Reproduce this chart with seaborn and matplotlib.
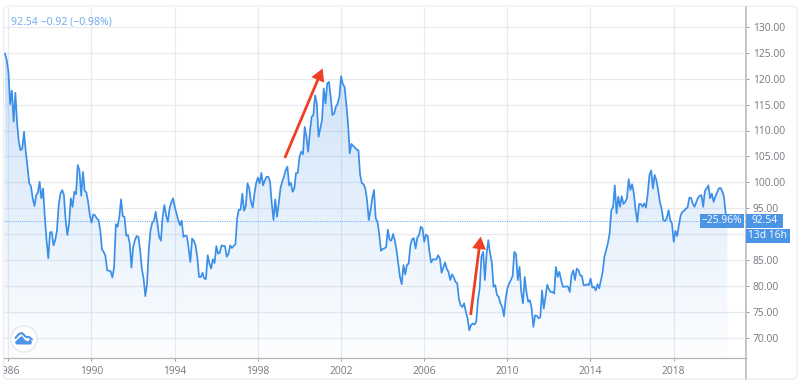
import numpy as np
import pandas as pd
import seaborn as sns
import matplotlib
matplotlib.use("Agg")
import matplotlib.pyplot as plt
from matplotlib.patches import FancyBboxPatch, Circle, Rectangle, Polygon
from matplotlib.lines import Line2D
from matplotlib.transforms import IdentityTransform

values_1985_1998 = [124.9,123.6,121.3,115.1,117.7,111.7,117.3,111.4,107.8,106.2,106.5,109.75,105.9,103.0,99.8,99.25,96.9,95.4,97.5,98.0,100.1,96.9,98.8,93.3,88.8,85.3,90.3,90.4,87.8,88.8,90.7,95.6,97.8,98.5,97.6,92.7,89.8,92.0,96.9,95.25,98.15,97.7,103.3,102.3,97.4,102.0,98.4,98.0,96.2,93.6,92.2,93.8,93.6,93.0,92.7,90.7,87.0,86.55,85.7,83.0,82.9,82.8,81.6,83.65,91.9,91.4,93.3,96.7,93.45,93.3,89.65,89.8,88.2,83.5,87.5,88.8,89.6,89.45,86.9,83.3,81.4,78.0,80.4,86.9,90.7,92.2,92.55,94.3,92.0,89.45,88.7,93.3,95.6,93.6,92.35,94.9,96.1,96.9,95.25,94.0,92.7,91.7,92.55,89.45,89.7,89.6,87.2,84.6,89.1,88.7,87.8,85.6,81.7,81.65,82.5,81.4,81.3,85.9,84.3,83.3,85.1,84.4,87.65,86.2,86.4,87.8,87.7,87.65,85.6,86.2,87.8,87.3,87.7,88.0,93.0,94.7,94.7,97.8,94.5,95.4,99.8,98.8,96.2,95.1,97.8,99.9,100.9,99.8,101.8,99.4,100.4,101.05,101.05]
values_1998_2011 = [100.1,95.9,92.7,96.7,93.3,95.9,98.8,100.1,101.05,102.3,103.0,99.4,99.9,98.15,98.8,101.8,101.8,104.9,105.9,105.4,110.7,108.8,105.9,109.75,112.65,113.0,116.8,115.2,108.8,110.4,112.0,118.1,115.2,119.1,119.4,116.5,113.0,113.3,114.6,115.2,116.5,120.5,119.0,118.45,115.2,111.4,105.6,107.4,107.0,106.7,106.3,106.2,101.4,99.8,99.6,98.8,96.5,92.7,94.6,96.9,98.5,93.0,92.35,90.1,86.75,87.1,87.2,87.5,90.85,88.9,88.7,90.0,88.8,86.9,84.3,81.7,80.3,84.0,82.2,84.0,84.3,87.8,89.0,89.2,87.2,89.3,89.8,91.4,91.1,88.5,89.9,89.6,86.55,84.5,85.1,85.1,85.1,85.9,85.3,82.5,83.5,84.5,83.3,82.7,81.1,82.2,81.7,80.75,80.55,77.5,76.2,75.9,76.6,75.0,73.7,71.4,72.4,72.7,72.5,73.0,77.2,79.5,85.6,86.55,81.1,86.2,88.8,86.2,84.6,79.8,80.1,78.2,77.85,76.6,75.9,74.1,77.5,79.5,80.4,81.1,81.85,86.55,86.1,81.1,83.65,78.8,76.6,81.7,78.8,76.9,77.2]
values_2011_2020 = [75.6,72.05,74.3,74.2,73.7,73.9,79.1,75.6,77.85,80.2,79.3,78.8,78.8,78.5,83.65,81.7,82.7,81.1,79.8,79.8,79.9,79.8,78.8,82.0,83.0,81.1,83.3,83.0,82.0,81.9,80.1,80.1,80.3,80.1,81.4,79.65,79.8,79.1,80.3,79.5,81.1,82.7,85.6,86.9,88.2,90.1,94.6,95.25,99.4,94.0,97.2,95.25,97.3,95.8,96.2,96.9,100.6,98.5,99.6,97.8,94.6,92.35,95.8,95.8,95.25,95.9,95.1,97.8,101.4,102.3,98.8,101.4,100.4,98.5,96.2,94.9,92.7,92.5,93.0,94.6,92.7,92.0,88.5,90.6,89.6,91.7,93.6,94.3,94.5,94.9,95.1,97.0,97.0,95.9,95.25,96.1,97.0,97.4,97.5,95.25,98.3,98.8,99.4,96.9,97.8,96.2,97.2,98.0,98.8,98.9,98.3,97.2,94.0,92.54]
start_year = 1985.84
y_ticks = [70,75,80,85,90,95,100,105,110,115,120,125,130]
y_tick_labels = ["70.00","75.00","80.00","85.00","","95.00","100.00","105.00","110.00","115.00","120.00","125.00","130.00"]
x_ticks = [1986,1990,1994,1998,2002,2006,2010,2014,2018]
last_value = 92.54
header = "92.54 \u22120.92 (\u22120.98%)"

vals = values_1985_1998 + values_1998_2011 + values_2011_2020
df = pd.DataFrame({"value": vals})
df["year"] = start_year + df.index / 12

W, H = 800, 386
sns.set_theme(style="white")
plt.rcParams["font.family"] = ["Open Sans", "DejaVu Sans"]
fig = plt.figure(figsize=(W/100, H/100), dpi=100, facecolor="white")
L, R, T, B = 4, 746, 7, 358
ax = fig.add_axes([L/W, 1-B/H, (R-L)/W, (B-T)/H])
ax.patch.set_alpha(0)
px = lambda x, y: (x, H-y)
I = IdentityTransform()

fig.add_artist(FancyBboxPatch(px(3.5, 379), 793.5, 373, boxstyle="round,pad=0,rounding_size=5",
                              fc="white", ec="#eceef3", lw=1.0, transform=I, zorder=-5))

LINE = "#3c8fe8"
xl = (1986-(8.3-L)/20.79, 1986+(R-8.3)/20.79)
yl = (130-(B-27)/5.175, 130+(27-T)/5.175)

grad = np.zeros((256, 1, 4))
grad[..., 0] = 0.24; grad[..., 1] = 0.56; grad[..., 2] = 0.91
grad[:, 0, 3] = np.linspace(0.26, 0.01, 256)
im = ax.imshow(grad, extent=(xl[0], xl[1], yl[0], 125), origin="upper", aspect="auto", zorder=1.5)
poly = ax.fill_between(df["year"], df["value"], yl[0], alpha=0, lw=0)
im.set_clip_path(poly.get_paths()[0], ax.transData)

sns.lineplot(data=df, x="year", y="value", ax=ax, color=LINE, lw=1.25, zorder=3, errorbar=None, estimator=None)

ax.set_xlim(xl); ax.set_ylim(yl)
ax.set_xlabel(""); ax.set_ylabel("")
ax.set_axisbelow(True)
for s in ["left", "top"]:
    ax.spines[s].set_visible(False)
for s in ["bottom", "right"]:
    ax.spines[s].set_visible(True)
    ax.spines[s].set_color("#b4b6ba")
ax.spines["bottom"].set_linewidth(0.9)
ax.spines["right"].set_linewidth(1.1)
ax.grid(True, color="#e8eaf0", lw=0.9)
ax.yaxis.tick_right()
ax.set_yticks(y_ticks); ax.set_yticklabels(y_tick_labels)
ax.set_xticks(x_ticks); ax.set_xticklabels([str(v) for v in x_ticks])
ax.tick_params(axis="y", right=True, length=2.5, width=0.7, color="#9a9da3", labelsize=7.4, labelcolor="#74787f", pad=2.5)
ax.tick_params(axis="x", bottom=True, length=2.5, width=0.7, color="#9a9da3", labelsize=7.4, labelcolor="#74787f", pad=3.5)
clip = Rectangle((4, 0), W, H, transform=I)
for t in ax.get_xticklabels():
    t.set_clip_path(clip); t.set_clip_on(True)

fig.add_artist(Line2D([R, R], [H-358, H-379], transform=I, color="#b4b6ba", lw=1.1))
ax.axhline(last_value, color="#7ab6f2", lw=0.8, ls=(0, (1, 1)), zorder=2)

fig.text(11/W, 1-22.5/H, header, color="#69aaf0", fontsize=7.6, va="center", ha="left")

RED = "#ee3f24"
for tail, tip in [((1999.3, 104.7), (2001.12, 122.0)), ((2008.24, 74.35), (2008.72, 89.5))]:
    ax.annotate("", xy=tip, xytext=tail, zorder=5,
                arrowprops=dict(width=2.0, headwidth=10, headlength=9, shrink=0, fc=RED, ec=RED, lw=0))

BOX = "#4b94e6"
def box(x0, y0, x1, y1, text):
    fig.add_artist(Rectangle(px(x0, y1), x1-x0, y1-y0, transform=I, fc=BOX, ec="none", zorder=6))
    fig.text((x0+x1)/2/W, 1-(y0+y1)/2/H, text, color="white", fontsize=7.4,
             ha="center", va="center", zorder=7)
box(700, 214, 744, 227.5, "\u221225.96%")
box(746, 214, 783, 227.5, "92.54")
box(746, 229, 790, 242.5, "13d 16h")

fig.add_artist(Circle(px(24, 339), 13, transform=I, fc="white", ec="#e6e8ec", lw=1, zorder=6))
fig.add_artist(Polygon([px(*p) for p in [(15,342),(19,338),(22,336),(25,340),(28,341.5),(30,339),(32,342),(31,344.5),(16,344.5)]],
                       closed=True, transform=I, fc="#4b94e6", ec="none", zorder=7))
fig.add_artist(Line2D([15.5,19,22,26,29,32], [H-338,H-334,H-333,H-337,H-337,H-339.5], transform=I, color="#4b94e6", lw=1.5, zorder=7))

fig.savefig("out.png", dpi=100)
